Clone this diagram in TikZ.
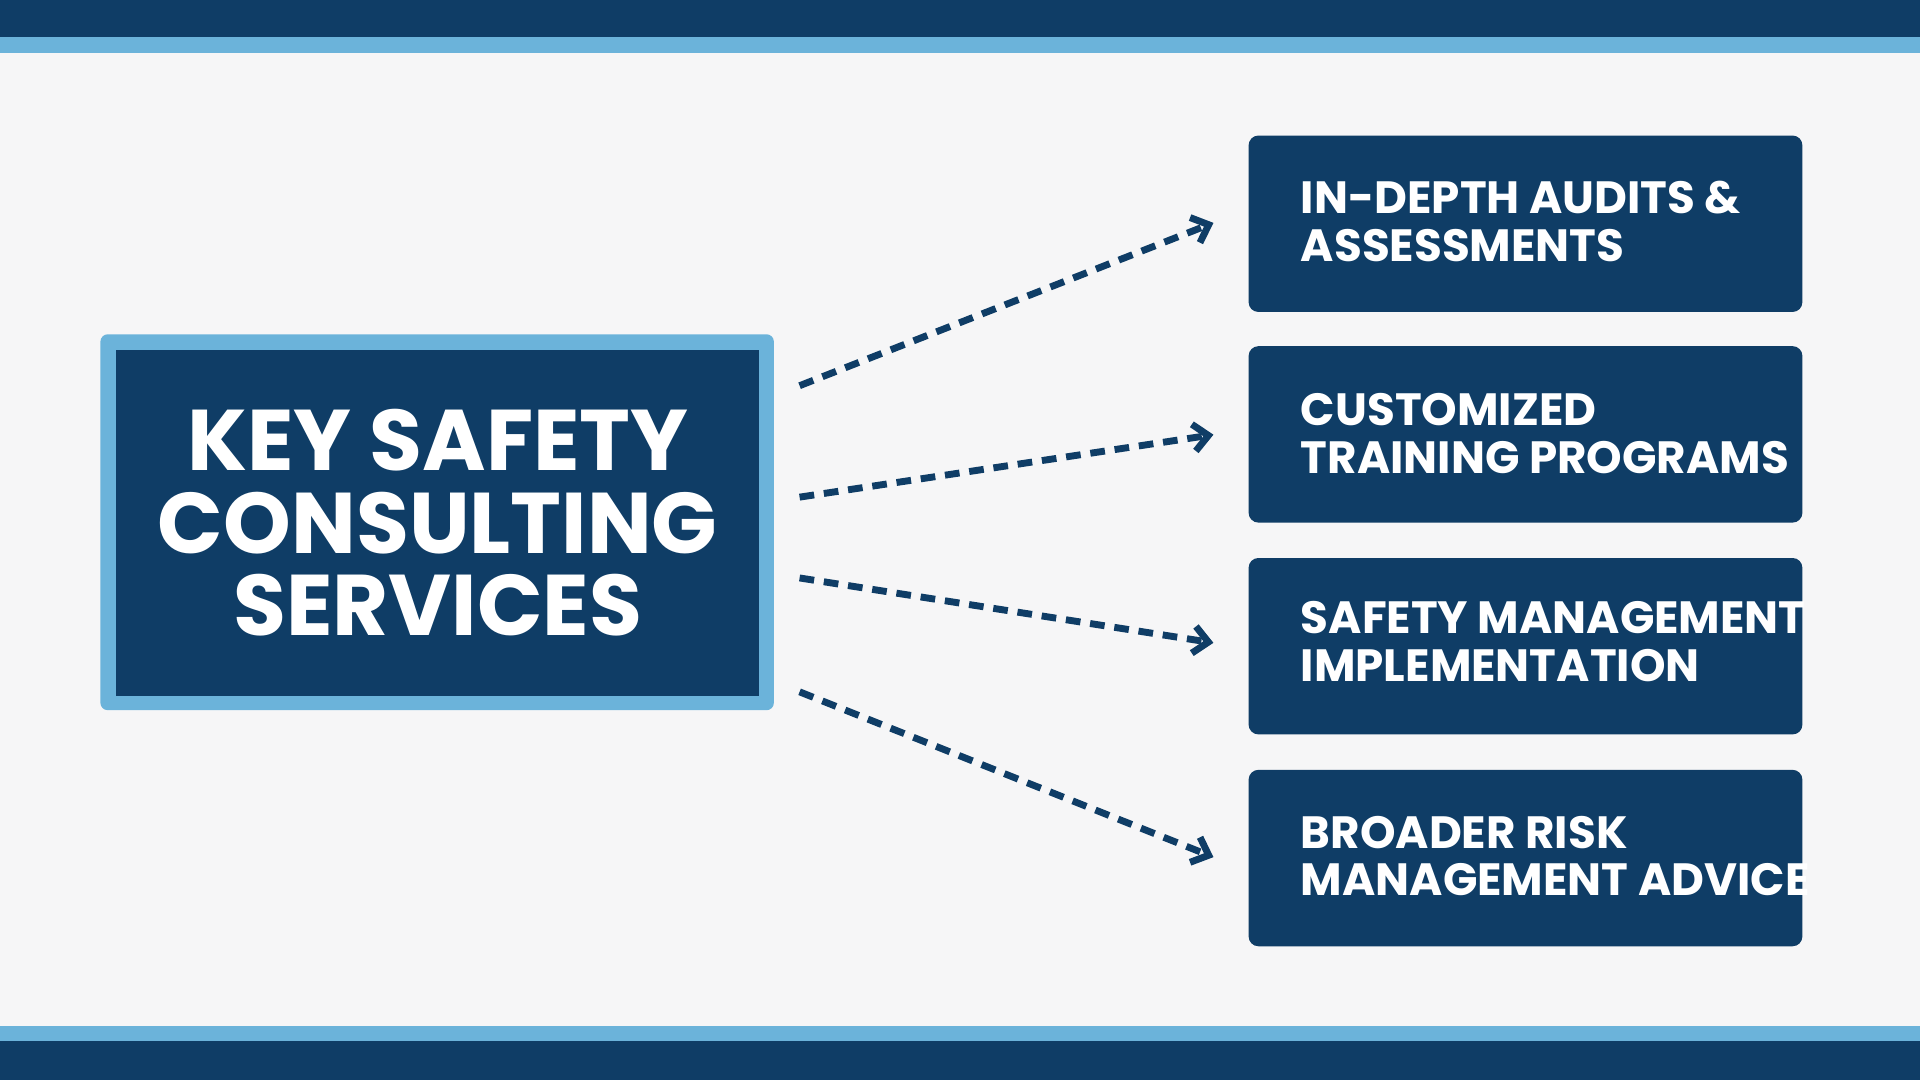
\documentclass[tikz,border=0pt]{standalone}
\usepackage{fontspec}
\setmainfont{Poppins}
\usetikzlibrary{arrows.meta}
\definecolor{navy}{HTML}{0F3D66}
\definecolor{skyblue}{HTML}{6BB3DA}
\definecolor{paper}{HTML}{F6F6F7}
\tikzset{
  servicebox/.style={fill=navy,rounded corners=0.08cm,minimum width=4.52cm,minimum height=1.44cm,anchor=north west},
  servicetext/.style={text=white,font=\fontsize{10.5pt}{11pt}\selectfont\bfseries,align=left,anchor=west},
  link/.style={draw=navy,line width=1.6pt,dash pattern=on 0.12cm off 0.08cm,-{Straight Barb[length=0.12cm,width=0.22cm,line width=1.6pt]}}
}
\begin{document}
\begin{tikzpicture}[x=0.01cm,y=-0.01cm]
  \useasboundingbox (0,0) rectangle (1568,882);
  \fill[paper] (0,0) rectangle (1568,882);
  % bands
  \fill[navy] (0,0) rectangle (1568,30);
  \fill[skyblue] (0,30) rectangle (1568,43);
  \fill[skyblue] (0,838) rectangle (1568,850);
  \fill[navy] (0,850) rectangle (1568,882);
  % main box
  \fill[skyblue,rounded corners=0.06cm] (82,273) rectangle (632,580);
  \node[fill=navy,minimum width=5.25cm,minimum height=2.82cm,text=white,align=center,
        font=\fontsize{20pt}{19.2pt}\selectfont\bfseries] (main) at (357.5,427)
        {KEY SAFETY\\CONSULTING\\SERVICES};
  % service boxes
  \node[servicebox] (audit) at (1019,110) {};
  \node[servicebox] (train) at (1019,282) {};
  \node[servicebox] (manage) at (1019,455) {};
  \node[servicebox] (risk) at (1019,628) {};
  \node[servicetext] at (1050,181) {IN-DEPTH AUDITS \&\\ASSESSMENTS};
  \node[servicetext] at (1050,354) {CUSTOMIZED\\TRAINING PROGRAMS};
  \node[servicetext] at (1050,524) {SAFETY MANAGEMENT\\IMPLEMENTATION};
  \node[servicetext] at (1050,699) {BROADER RISK\\MANAGEMENT ADVICE};
  % connectors
  \coordinate (s1) at (653,315);
  \coordinate (s2) at (653,406);
  \coordinate (s3) at (653,472);
  \coordinate (s4) at (653,565);
  \draw[link] (s1) -- ([xshift=-0.28cm,yshift=-0.0cm]audit.west |- 0,182);
  \draw[link] (s2) -- ([xshift=-0.28cm]train.west |- 0,355);
  \draw[link] (s3) -- ([xshift=-0.28cm]manage.west |- 0,525);
  \draw[link] (s4) -- ([xshift=-0.28cm]risk.west |- 0,700);
\end{tikzpicture}
\end{document}
